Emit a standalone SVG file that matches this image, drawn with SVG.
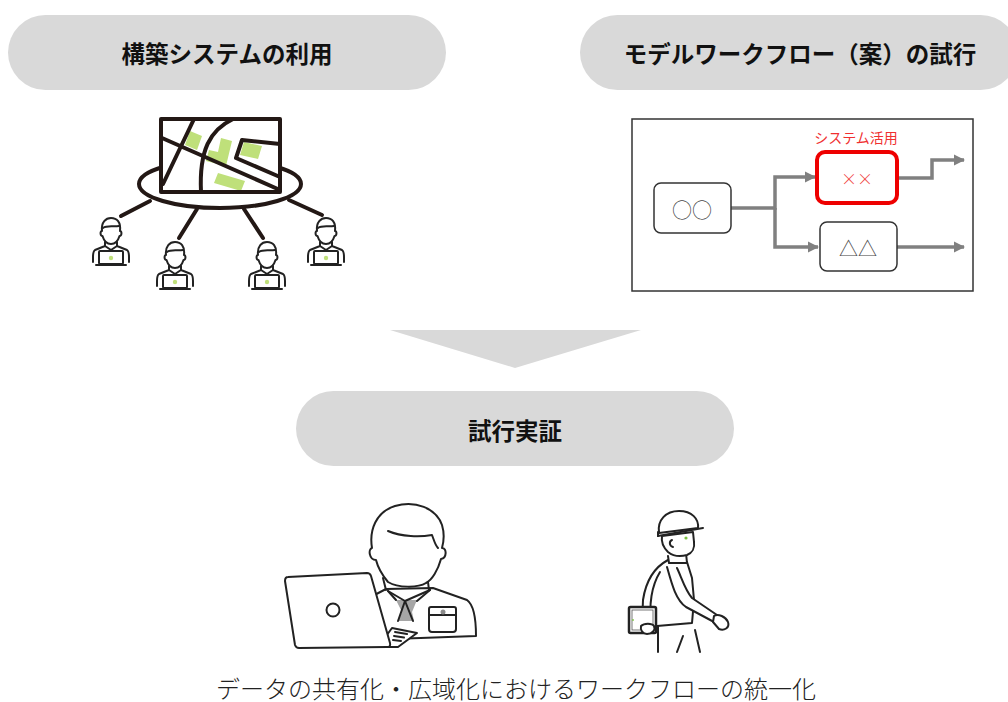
<svg xmlns="http://www.w3.org/2000/svg" width="1008" height="702" viewBox="0 0 1008 702">
  <defs>
    <style>
      .pill { fill: #d9d9d9; }
      .title { font-family: "Noto Sans CJK JP", "Liberation Sans", sans-serif; font-weight: 700; font-size: 23.5px; fill: #111; text-anchor: middle; dominant-baseline: central; }
      .caption { font-family: "Liberation Serif", "Noto Sans CJK JP", serif; font-weight: 300; font-size: 24px; fill: #222; text-anchor: middle; dominant-baseline: central; }
      .ink { fill: none; stroke: #231815; stroke-width: 4; stroke-linecap: round; stroke-linejoin: round; }
      .line { fill: none; stroke: #222; stroke-width: 2; stroke-linecap: round; stroke-linejoin: round; }
      .lineW { fill: #fff; stroke: #222; stroke-width: 2; stroke-linecap: round; stroke-linejoin: round; }
      .green { fill: #bfe07a; }
      .flowbox { fill: #fff; stroke: #333; stroke-width: 1.5; }
      .flowtxt { font-family: "Noto Sans CJK JP", "DejaVu Sans", sans-serif; font-weight: 300; fill: #444; text-anchor: middle; dominant-baseline: central; }
      .flowline { fill: none; stroke: #808080; stroke-width: 3.5; stroke-linejoin: miter; }
    </style>
    <marker id="grayHead" viewBox="0 0 10 10" refX="9" refY="5" markerWidth="3.2" markerHeight="3.2" orient="auto" markerUnits="strokeWidth">
      <path d="M0,0 L10,5 L0,10 Z" fill="#808080"/>
    </marker>
    <!-- small operator at a laptop -->
    <symbol id="operator" viewBox="0 0 38 50" width="38" height="50" overflow="visible">
      <path class="lineW" d="M10,14 C9,5 14,1 19,1 C25,1 29,5 28,14 C30,14 30,19 27.5,19 C26,24 23,27 19,27 C15,27 12,24 10.5,19 C8,19 8,14 10,14 Z"/>
      <path class="line" d="M11,11 C15,8 21,10 27,9"/>
      <path class="line" d="M13,25 L13,29 L3,33 C1.5,34 1,37 1,40 L1,45"/>
      <path class="line" d="M25,25 L25,29 L35,33 C36.5,34 37,37 37,40 L37,45"/>
      <path class="line" d="M13,29 L19,33 L25,29"/>
      <rect class="lineW" x="7" y="34" width="24" height="13" rx="1"/>
      <path class="line" d="M4,48 L34,48"/>
      <circle cx="19" cy="41" r="2.2" class="green"/>
    </symbol>
  </defs>

  <rect width="1008" height="702" fill="#fff"/>

  <!-- heading: 構築システムの利用 -->
  <g id="head-system">
    <rect class="pill" x="8" y="15" width="438" height="75" rx="37.5"/>
    <text class="title" x="227" y="53">構築システムの利用</text>
  </g>

  <!-- heading: モデルワークフロー（案）の試行 -->
  <g id="head-workflow">
    <rect class="pill" x="580" y="15" width="438" height="75" rx="37.5"/>
    <text class="title" x="800" y="53">モデルワークフロー（案）の試行</text>
  </g>

  <!-- shared map platform with connected users -->
  <g id="shared-map">
    <ellipse class="ink" cx="220" cy="184" rx="81" ry="24"/>
    <rect x="161" y="119" width="119" height="73" fill="#fff"/>
    <polygon class="green" points="190,131 202,136 197,150 185,145"/>
    <polygon class="green" points="221,138 232,141 226,166 206,161 209,150 218,152"/>
    <polygon class="green" points="244,142 262,146 258,159 240,155"/>
    <polygon class="green" points="218,173 245,181 241,191 214,183"/>
    <path class="ink" d="M162,138 L280,190"/>
    <path class="ink" d="M194,119 L163,184"/>
    <path class="ink" d="M233,119 C210,130 199,150 201,192"/>
    <path class="ink" d="M280,144 L242,140 L236,158 L280,177"/>
    <rect class="ink" x="161" y="119" width="119" height="73"/>
    <path class="ink" d="M150,201 L121,216"/>
    <path class="ink" d="M197,209 L179,238"/>
    <path class="ink" d="M244,209 L263,238"/>
    <path class="ink" d="M289,200 L322,215"/>
  </g>
  <g id="user-1"><use href="#operator" x="92" y="217"/></g>
  <g id="user-2"><use href="#operator" x="156" y="241"/></g>
  <g id="user-3"><use href="#operator" x="248" y="241"/></g>
  <g id="user-4"><use href="#operator" x="307" y="217"/></g>

  <!-- model workflow sketch -->
  <g id="workflow-panel">
    <rect x="632" y="119" width="341" height="172" fill="#fff" stroke="#333" stroke-width="1.5"/>
  </g>
  <g id="flow-connectors">
    <path class="flowline" d="M731,208 L775,208 L775,177 L815,177" marker-end="url(#grayHead)"/>
    <path class="flowline" d="M775,208 L775,247 L818,247" marker-end="url(#grayHead)"/>
    <path class="flowline" d="M897,178 L932,178 L932,160 L964,160" marker-end="url(#grayHead)"/>
    <path class="flowline" d="M897,247 L964,247" marker-end="url(#grayHead)"/>
  </g>
  <g id="step-oo">
    <rect class="flowbox" x="654" y="183" width="77" height="50" rx="7"/>
    <text class="flowtxt" x="692" y="209" font-size="20">○○</text>
  </g>
  <g id="step-xx">
    <text x="856" y="137" font-family="Noto Sans CJK JP, Liberation Sans, sans-serif" font-size="14" fill="#f03030" text-anchor="middle" dominant-baseline="central">システム活用</text>
    <rect x="817" y="152" width="80" height="51" rx="8" fill="#fff" stroke="#ee0000" stroke-width="4"/>
    <text class="flowtxt" x="857" y="178" font-size="16" style="fill:#f04040">××</text>
  </g>
  <g id="step-tt">
    <rect class="flowbox" x="820" y="222" width="77" height="49" rx="7"/>
    <text class="flowtxt" x="858" y="247" font-size="19">△△</text>
  </g>

  <!-- downward arrow -->
  <g id="down-arrow">
    <polygon class="pill" points="390,330 641,330 515,368"/>
  </g>

  <!-- heading: 試行実証 -->
  <g id="head-trial">
    <rect class="pill" x="296" y="391" width="438" height="75" rx="37.5"/>
    <text class="title" x="515" y="430">試行実証</text>
  </g>

  <!-- office worker with laptop -->
  <g id="office-worker">
    <!-- shoulders and shirt -->
    <path class="lineW" d="M386,589 L365,600 L365,640 L476,636 C476,618 474,605 467,600 L433,588 Z"/>
    <polygon points="396,600 417,600 412,612 414,621 398,621 402,612" fill="#a6a6a6"/>
    <path class="line" d="M388,591 L405,601 L430,590"/>
    <path class="line" d="M388,591 L396,600 M430,590 L417,601"/>
    <path class="line" d="M405,601 L398,621 M405,601 L413,621"/>
    <!-- pocket -->
    <path class="line" d="M429,609 Q429,607 431,607 L454,607 Q456,607 456,609 L456,629 Q456,632 453,632 L432,632 Q429,632 429,629 Z"/>
    <path class="line" d="M429,615 L456,615"/>
    <circle cx="443" cy="612" r="2.5" fill="#8c8c8c"/>
    <!-- head -->
    <path class="lineW" d="M383,578 L386,590 M428,582 L429,590"/>
    <path class="lineW" d="M372,548 C369,530 376,512 395,506 C415,500 436,508 442,525 C445,535 444,541 442,548 C447,548 447,558 441,559 C438,570 432,580 426,583 C418,588 398,588 388,582 C383,576 378,568 376,560 C369,560 368,549 372,548 Z"/>
    <path class="line" d="M388,531 C402,537 420,537 432,535 C434,540 435,545 438,548"/>
    <!-- laptop -->
    <path class="lineW" d="M392,628 L417,633 L398,647 L378,647 Z"/>
    <path class="line" d="M395,632 L407,634 M394,636 L404,637.5 M393,640 L401,641"/>
    <path class="lineW" d="M288,577 L367,573 Q370,573 371,576 L390,643 Q391,647 387,647 L299,648 Q296,648 295,645 L285,581 Q285,577 288,577 Z"/>
    <circle cx="333" cy="610" r="6.5" fill="#fff" stroke="#222" stroke-width="2"/>
  </g>

  <!-- site worker walking with a tablet -->
  <g id="site-worker">
    <!-- body -->
    <path class="lineW" d="M668,560 C655,567 646,580 643,600 L642,625 L657,626 L692,623 L694,600 L692,578 L687,562 Z"/>
    <path class="line" d="M658,626 L658,652 M683,636 L677,652 M695,630 L700,652"/>
    <!-- forward arm -->
    <path class="lineW" d="M667,567 C672,585 676,600 686,607 L714,622 L717,615 L692,598 C685,590 681,576 677,568"/>
    <path class="lineW" d="M714,616 C718,613 726,617 728,622 C730,628 724,631 719,629 L713,622 Z"/>
    <!-- rear arm and tablet -->
    <path class="line" d="M660,572 C652,585 648,605 652,626"/>
    <rect x="629" y="607" width="27" height="26" rx="1.5" fill="#fff" stroke="#222" stroke-width="2.5"/>
    <rect x="632" y="610" width="21" height="20" fill="none" stroke="#555" stroke-width="0.8"/>
    <circle cx="633" cy="620" r="0.9" fill="#7bc142"/>
    <path class="lineW" d="M641,626 C644,623 652,623 654,626 C656,630 652,634 647,634 C643,634 640,630 641,626 Z"/>
    <!-- collar -->
    <path class="lineW" d="M668,556 L669,563 L687,563 L686,553"/>
    <!-- head -->
    <path class="lineW" d="M662,536 C661,542 664,548 668,552 C673,556 680,557 687,555 C692,553 695,548 694,542 L693,532 Z"/>
    <circle cx="686" cy="538" r="1.6" fill="#7bc142"/>
    <path class="line" d="M672,540 C669,541 669,546 673,547"/>
    <!-- helmet -->
    <path class="lineW" d="M659,533 C657,520 666,511 679,511 C692,511 699,519 698,528 Z"/>
    <path class="line" d="M658,536 L703,528"/>
    <path class="line" d="M658,532 L658,536"/>
  </g>

  <!-- caption -->
  <g id="caption">
    <text class="caption" x="516" y="690">データの共有化・広域化におけるワークフローの統一化</text>
  </g>
</svg>
